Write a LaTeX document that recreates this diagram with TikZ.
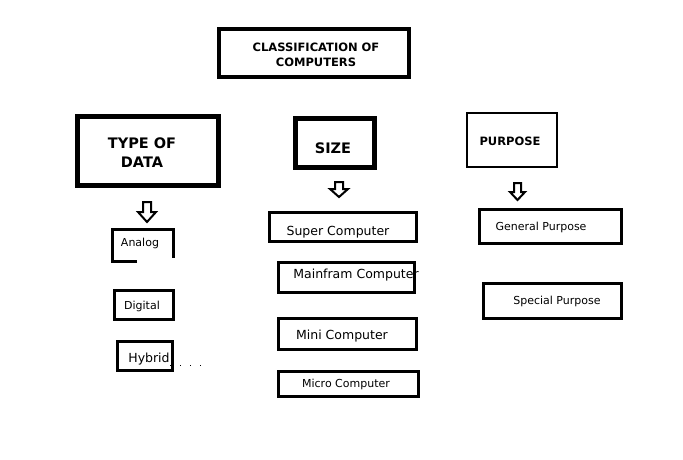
\documentclass[tikz,border=0pt]{standalone}
\usepackage{fontspec}
\setmainfont{DejaVu Sans}
\begin{document}
\begin{tikzpicture}[x=1pt,y=-1pt,
  boxa/.style={draw=black,line width=4pt,inner sep=0pt},
  boxb/.style={draw=black,line width=5pt,inner sep=0pt},
  boxc/.style={draw=black,line width=2.6pt,inner sep=0pt},
  boxd/.style={draw=black,line width=3pt,inner sep=0pt},
  ttl/.style={font=\bfseries\fontsize{11.5}{15}\selectfont,inner sep=0pt,align=center},
  big/.style={font=\bfseries\fontsize{14.5}{19}\selectfont,inner sep=0pt},
  lbl/.style={font=\fontsize{12.5}{14}\selectfont,inner sep=0pt},
  sml/.style={font=\fontsize{11}{13}\selectfont,inner sep=0pt},
  harrow/.style={draw=black,line width=2pt,fill=white,line join=miter}]
\useasboundingbox[fill=white] (0,0) rectangle (683,460);
% top
\node[boxa,minimum width=190pt,minimum height=48pt] (cls) at (314,53) {};
\node[ttl] (clst) at (316,55) {CLASSIFICATION OF\\COMPUTERS};
% categories
\node[boxb,minimum width=141pt,minimum height=69pt] (tod) at (148,151) {};
\node[big] (todt1) at (142,143) {TYPE OF};
\node[big] (todt2) at (142,162) {DATA};
\node[boxb,minimum width=79pt,minimum height=49pt] (siz) at (335,143) {};
\node[big] (sizt) at (333,148) {SIZE};
\node[boxc,minimum width=90pt,minimum height=54pt] (pur) at (512,140) {};
\node[ttl] (purt) at (510,141) {PURPOSE};
% arrows
\draw[harrow] (143,202) -- (151,202) -- (151,212) -- (156,212) -- (147,222) -- (138,212) -- (143,212) -- cycle;
\draw[harrow] (335,182) -- (343,182) -- (343,189) -- (348,189) -- (339,197) -- (330,189) -- (335,189) -- cycle;
\draw[harrow] (514,183) -- (521,183) -- (521,192) -- (525,192) -- (517.5,200) -- (510,192) -- (514,192) -- cycle;
% type of data
\node[sml] (ana) at (140,243.5) {Analog};
\coordinate (a1) at (137,261);
\coordinate (a2) at (173,258);
\draw[line width=3pt] (a1) -- (112.5,261) -- (112.5,229.5) -- (173,229.5) -- (a2);
\node[boxd,minimum width=59pt,minimum height=29pt] (dig) at (144,305) {};
\node[sml] (digt) at (142,306.5) {Digital};
\node[boxd,minimum width=55pt,minimum height=29pt] (hyb) at (145,356) {};
\node[lbl] (hybt) at (149,359.5) {Hybrid};
\coordinate (d1) at (170,365);
\coordinate (d2) at (201,365);
\draw[line width=0.8pt,dash pattern=on 1pt off 9pt] (d1) -- (d2);
% size
\node[boxd,minimum width=147pt,minimum height=29pt] (sup) at (343,227) {};
\node[lbl] (supt) at (338,232.5) {Super Computer};
\node[boxd,minimum width=136pt,minimum height=30pt] (mai) at (346.5,277.5) {};
\node[lbl] (mait) at (356,275.5) {Mainfram Computer};
\node[boxd,minimum width=138pt,minimum height=31pt] (min) at (347.5,334) {};
\node[lbl] (mint) at (342,336.5) {Mini Computer};
\node[boxd,minimum width=140pt,minimum height=25pt] (mic) at (348.5,384) {};
\node[sml] (mict) at (346,384.5) {Micro Computer};
% purpose
\node[boxd,minimum width=142pt,minimum height=34pt] (gen) at (550.5,226.5) {};
\node[sml] (gent) at (541,227.5) {General Purpose};
\node[boxd,minimum width=138pt,minimum height=35pt] (spe) at (552.5,301) {};
\node[sml] (spet) at (557,301.5) {Special Purpose};
\end{tikzpicture}
\end{document}
